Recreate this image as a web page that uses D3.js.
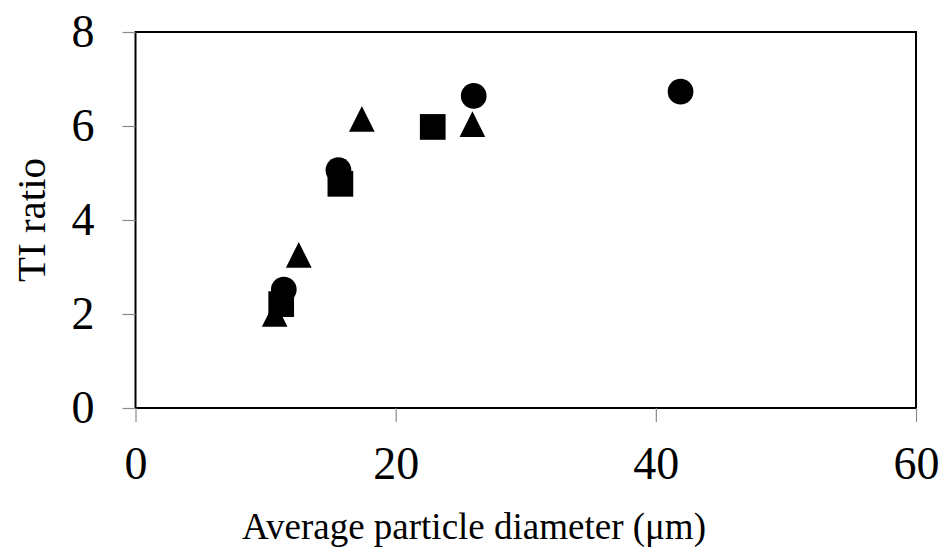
<!DOCTYPE html>
<html>
<head>
<meta charset="utf-8">
<script src="https://cdn.jsdelivr.net/npm/d3@7"></script>
<style>
  html, body { margin: 0; padding: 0; background: #fff; }
  svg { display: block; }
  text { font-family: "Liberation Serif", "Times New Roman", serif; fill: #000; }
</style>
</head>
<body>
<svg id="chart" width="948" height="551"></svg>
<script>
// ---- Data ----
const xTicks = [0, 20, 40, 60];
const yTicks = [0, 2, 4, 6, 8];
const xLabel = "Average particle diameter (μm)";
const yLabel = "TI ratio";

const circleX = [11.4, 15.6, 26.0, 41.9];
const circleY = [2.52, 5.06, 6.64, 6.73];

const squareX = [11.2, 15.75, 22.85];
const squareY = [2.21, 4.77, 5.98];

const triangleX = [10.7, 12.55, 17.4, 25.9];
const triangleY = [2.00, 3.26, 6.15, 6.04];

// ---- Layout ----
const W = 948, H = 551;
const margin = { left: 135.5, right: 32, top: 32, bottom: 143 };
const svg = d3.select("#chart");

const x = d3.scaleLinear().domain([0, 60]).range([margin.left, W - margin.right]);
const y = d3.scaleLinear().domain([0, 8]).range([H - margin.bottom, margin.top]);

// plot border
svg.append("rect")
  .attr("x", x(0)).attr("y", y(8))
  .attr("width", x(60) - x(0)).attr("height", y(0) - y(8))
  .attr("fill", "none").attr("stroke", "#000").attr("stroke-width", 2);

// axes (ticks only; lines are the border)
const xAxis = svg.append("g")
  .attr("transform", `translate(0,${y(0)})`)
  .call(d3.axisBottom(x).tickValues(xTicks).tickSize(14).tickPadding(24).tickFormat(d3.format("d")));
xAxis.select(".domain").remove();
xAxis.selectAll(".tick line").attr("stroke", "#8a8a8a").attr("stroke-width", 1.2);
xAxis.selectAll(".tick text").attr("font-size", 46).attr("font-family", "Liberation Serif").attr("fill", "#000");

const yAxis = svg.append("g")
  .attr("transform", `translate(${x(0)},0)`)
  .call(d3.axisLeft(y).tickValues(yTicks).tickSize(13).tickPadding(28).tickFormat(d3.format("d")));
yAxis.select(".domain").remove();
yAxis.selectAll(".tick line").attr("stroke", "#8a8a8a").attr("stroke-width", 1.2);
yAxis.selectAll(".tick text").attr("font-size", 46).attr("font-family", "Liberation Serif").attr("fill", "#000");

// axis titles
svg.append("text")
  .attr("x", 474).attr("y", 539)
  .attr("text-anchor", "middle")
  .attr("font-size", 37)
  .text(xLabel);

svg.append("text")
  .attr("transform", `translate(45,${(y(0) + y(8)) / 2}) rotate(-90)`)
  .attr("text-anchor", "middle")
  .attr("font-size", 41)
  .text(yLabel);

// markers
const size = 25.7;
const circles = circleX.map((d, i) => ({ x: d, y: circleY[i] }));
const squares = squareX.map((d, i) => ({ x: d, y: squareY[i] }));
const triangles = triangleX.map((d, i) => ({ x: d, y: triangleY[i] }));

svg.append("g").selectAll("circle").data(circles).join("circle")
  .attr("cx", d => x(d.x)).attr("cy", d => y(d.y)).attr("r", size / 2)
  .attr("fill", "#000");

svg.append("g").selectAll("rect").data(squares).join("rect")
  .attr("x", d => x(d.x) - size / 2).attr("y", d => y(d.y) - size / 2)
  .attr("width", size).attr("height", size)
  .attr("fill", "#000");

svg.append("g").selectAll("path").data(triangles).join("path")
  .attr("d", d => {
    const cx = x(d.x), cy = y(d.y), h = size / 2;
    return `M${cx},${cy - h}L${cx + h},${cy + h}L${cx - h},${cy + h}Z`;
  })
  .attr("fill", "#000");
</script>
</body>
</html>
